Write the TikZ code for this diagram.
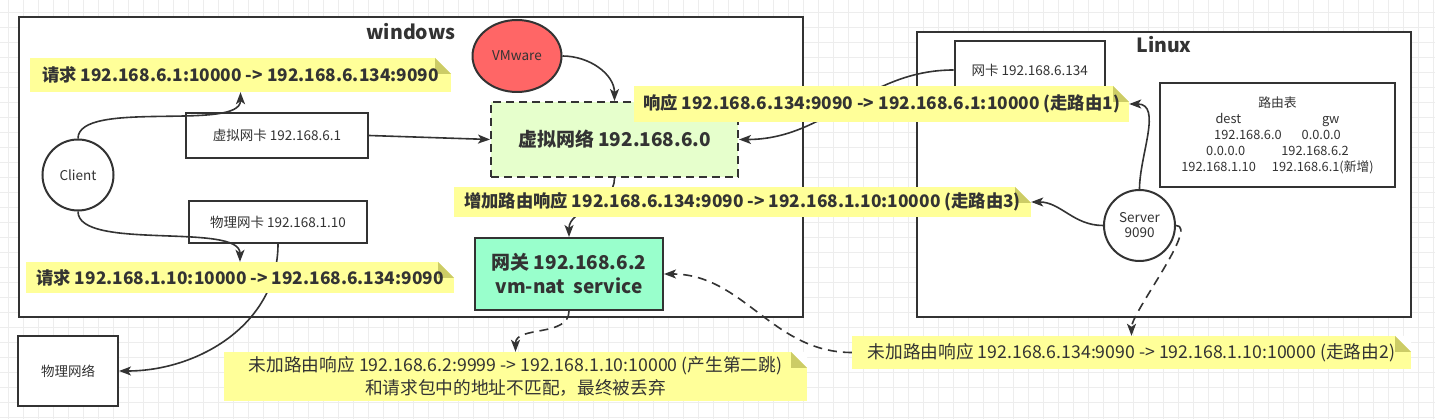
\documentclass[tikz,border=0pt]{standalone}
\usepackage{fontspec}
\setmainfont{Noto Sans CJK SC}
\usetikzlibrary{arrows.meta,shapes.geometric}

\definecolor{ink}{HTML}{333333}
\definecolor{gridline}{HTML}{EDEDED}
\definecolor{notefill}{HTML}{FFFF99}
\definecolor{notefold}{HTML}{CCCC66}
\definecolor{vnetfill}{HTML}{E6FFCC}
\definecolor{gwfill}{HTML}{99FFCC}
\definecolor{vmfill}{HTML}{FF6666}

\pgfdeclarelayer{back}
\pgfdeclarelayer{front}
\pgfsetlayers{back,main,front}

\tikzset{
  frame/.style={draw=ink, fill=white, line width=2pt, inner sep=0pt},
  title/.style={text=ink, font=\fontsize{19.5}{23}\selectfont\bfseries},
  box/.style={draw=ink, fill=white, line width=2pt, text=ink, inner sep=0pt,
    font=\fontsize{13.5}{16}\selectfont},
  host/.style={box, ellipse, minimum width=71pt, minimum height=71pt},
  note/.style={fill=notefill, text=ink, inner sep=0pt, align=center,
    font=\fontsize{17.7}{23}\selectfont,
    path picture={
      \fill[white] ([xshift=-16pt]path picture bounding box.north east)
        -- (path picture bounding box.north east)
        -- ([yshift=-16pt]path picture bounding box.north east) -- cycle;
      \fill[notefold] ([xshift=-16pt]path picture bounding box.north east)
        -- ([xshift=-16pt,yshift=-16pt]path picture bounding box.north east)
        -- ([yshift=-16pt]path picture bounding box.north east) -- cycle;}},
  boldnote/.style={note, font=\fontsize{17.3}{23}\selectfont\bfseries},
  link/.style={draw=ink, line width=1.6pt, -{Stealth[length=12pt,width=9pt,inset=3pt]}},
  dlink/.style={link, dash pattern=on 9pt off 6pt}
}

\begin{document}
\begin{tikzpicture}[x=1pt, y=-1pt]
\useasboundingbox (0,0) rectangle (1435,419);

\begin{pgfonlayer}{back}
  \foreach \gx in {8.3,23.3,...,1435} \draw[gridline] (\gx,0) -- (\gx,419);
  \foreach \gy in {12.3,27.3,...,419} \draw[gridline] (0,\gy) -- (1435,\gy);
  \node[frame, minimum width=784, minimum height=300] (win) at (411,167) {};
  \node[frame, minimum width=494, minimum height=285] (linux) at (1164,174.5) {};
\end{pgfonlayer}

\node[title] (wintitle) at (411,32) {windows};
\node[title] (lintitle) at (1164,45) {Linux};

\node[host] (client) at (78,175) {Client};
\node[box, minimum width=182, minimum height=45] (vnic) at (277,135.5) {虚拟网卡 192.168.6.1};
\node[box, minimum width=178, minimum height=42] (pnic) at (278,222) {物理网卡 192.168.1.10};
\node[box, minimum width=100, minimum height=70] (pnet) at (68,371) {物理网络};
\node[box, ellipse, fill=vmfill, minimum width=89, minimum height=72] (vmware) at (517,56) {VMware};
\node[box, fill=vnetfill, dashed, dash pattern=on 8pt off 5pt, minimum width=247, minimum height=75,
  font=\fontsize{19}{22}\selectfont\bfseries] (vnet) at (614.5,139.5) {虚拟网络 192.168.6.0};
\node[box, fill=gwfill, align=center, minimum width=188, minimum height=72,
  font=\fontsize{19}{24}\selectfont\bfseries] (gw) at (569,274) {网关 192.168.6.2\\vm-nat\ \ service};

\node[box, minimum width=150, minimum height=58] (lnic) at (1029.7,70) {网卡 192.168.6.134};
\node[box, align=center, minimum width=235, minimum height=104,
  font=\fontsize{12.8}{16}\selectfont] (route) at (1277.5,135) {路由表\\
  dest\hspace{81pt}gw\\
  192.168.6.0\hspace{20pt}0.0.0.0\\
  0.0.0.0\hspace{36pt}192.168.6.2\\
  192.168.1.10\hspace{16pt}192.168.6.1(新增)};
\node[host, align=center, font=\fontsize{13.5}{15}\selectfont] (server) at (1139.5,225.5) {Server\\9090};

\begin{pgfonlayer}{front}
  \node[boldnote, minimum width=421, minimum height=34] (req1) at (240.5,75) {请求 192.168.6.1:10000 -> 192.168.6.134:9090};
  \node[boldnote, minimum width=428, minimum height=31] (req2) at (240,277.5) {请求 192.168.1.10:10000 -> 192.168.6.134:9090};
  \node[boldnote, minimum width=495, minimum height=36] (resp1) at (881.5,104) {响应 192.168.6.134:9090 -> 192.168.6.1:10000 (走路由1)};
  \node[boldnote, minimum width=577, minimum height=30] (resp3) at (742.5,202) {增加路由响应 192.168.6.134:9090 -> 192.168.1.10:10000 (走路由3)};
  \node[note, minimum width=583, minimum height=49] (drop) at (515.5,376.5) {未加路由响应 192.168.6.2:9999 -> 192.168.1.10:10000 (产生第二跳)\\和请求包中的地址不匹配，最终被丢弃};
  \node[note, minimum width=559, minimum height=33] (resp2) at (1131.5,352.5) {未加路由响应 192.168.6.134:9090 -> 192.168.1.10:10000 (走路由2)};
\end{pgfonlayer}

\path
  (client.north) edge [link, out=90, in=-90, looseness=0.6] (req1.south)
  (client.south) edge [link, out=-90, in=90, looseness=0.6] (req2.north)
  (pnic.south)   edge [link, out=-90, in=0] (pnet.east)
  (vnic.east)    edge [link] (vnet.west)
  (vmware.east)  edge [link, out=0, in=90] (vnet.north)
  (lnic.west)    edge [link, out=180, in=0] (vnet.east)
  (vnet.south)   edge [link, out=-90, in=90] (gw.north)
  (gw.south)     edge [dlink, out=-90, in=90] (drop.north)
  (server.north) edge [link, out=90, in=0] (resp1.east)
  (server.west)  edge [link, out=180, in=0] (resp3.east)
  (server.east)  edge [dlink, out=0, in=90, looseness=0.5] (resp2.north)
  (resp2.west)   edge [dlink, out=180, in=0] (gw.east)
  ;
\end{tikzpicture}
\end{document}
